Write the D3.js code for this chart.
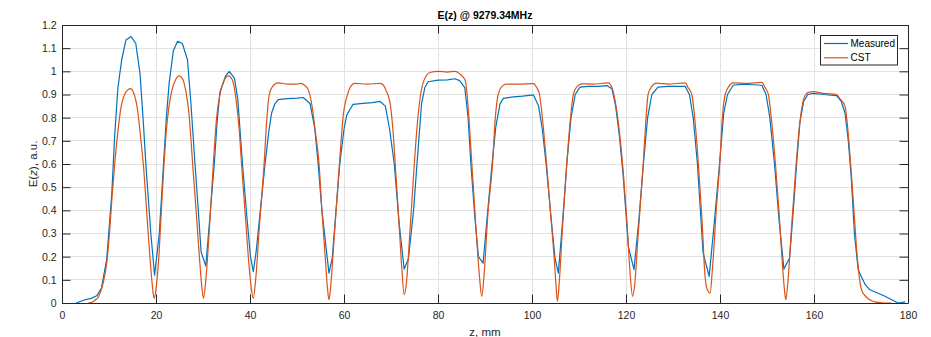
<!DOCTYPE html>
<html><head><meta charset="utf-8">
<script src="https://cdn.jsdelivr.net/npm/d3@7"></script>
<style>
html,body{margin:0;padding:0;background:#fff;}
svg{display:block;font-family:"Liberation Sans",Arial,Helvetica,sans-serif;}
</style></head>
<body><svg id="chart" width="931" height="337"></svg>
<script>
const titleText = "E(z) @ 9279.34MHz";
const xLabel = "z, mm";
const yLabelParts = ["E(", "z", "), a.u."];
const seriesNames = ["Measured", "CST"];
const xTicks = [0,20,40,60,80,100,120,140,160,180];
const yTicks = [0,0.1,0.2,0.3,0.4,0.5,0.6,0.7,0.8,0.9,1,1.1,1.2];

const measuredZ = [3.0,4.9,6.2,7.4,8.4,9.5,10.6,11.2,11.9,12.7,13.6,14.7,15.7,16.6,17.3,17.9,18.9,19.7,20.7,21.6,22.2,22.8,23.7,24.6,25.6,26.7,27.4,28.3,29.0,29.6,30.6,31.5,32.4,33.0,33.6,34.8,35.6,36.7,37.4,38.4,39.3,40.1,40.7,41.3,42.3,43.2,44.0,44.6,45.3,46.0,48.0,50.0,51.3,52.3,52.8,53.8,54.5,55.3,56.8,57.5,58.3,59.1,60.0,60.6,61.9,64,66,67.7,68.8,69.7,70.7,71.7,72.8,73.7,74.8,75.6,76.5,77.2,77.9,80,82,83.6,84.6,85.7,86.4,87.0,87.8,88.6,89.6,90.5,91.5,92.3,93.2,93.9,96.0,98,100.3,101.4,102.2,103.0,104.0,104.9,105.6,106.5,107.4,108.3,109.2,110.2,112,114,116,117.0,117.8,118.6,119.4,120.5,121.7,122.7,123.7,124.6,125.5,126.8,129,131,132.6,133.5,134.3,135.2,136.4,137.7,138.8,139.9,140.8,141.6,142.8,145,147,148.9,149.8,150.6,151.6,152.6,153.6,154.8,155.6,156.3,157.0,157.8,158.7,159.9,162,164.8,165.8,166.6,167.3,167.9,168.6,169.4,170.9,171.9,175,177.9,179.4];
const measuredE = [0.0,0.014,0.020,0.031,0.065,0.187,0.474,0.72,0.93,1.05,1.135,1.15,1.12,0.99,0.78,0.58,0.30,0.12,0.30,0.60,0.80,0.95,1.09,1.13,1.12,1.05,0.87,0.60,0.40,0.22,0.16,0.38,0.60,0.78,0.91,0.98,1.00,0.97,0.88,0.60,0.38,0.20,0.135,0.22,0.42,0.60,0.74,0.82,0.86,0.878,0.882,0.884,0.887,0.87,0.86,0.75,0.60,0.40,0.129,0.194,0.40,0.60,0.75,0.812,0.857,0.862,0.865,0.870,0.85,0.75,0.60,0.35,0.147,0.19,0.40,0.62,0.86,0.93,0.955,0.962,0.963,0.968,0.96,0.93,0.80,0.60,0.38,0.20,0.172,0.38,0.60,0.76,0.86,0.883,0.89,0.893,0.898,0.85,0.75,0.60,0.38,0.194,0.129,0.35,0.60,0.80,0.90,0.932,0.935,0.935,0.938,0.925,0.85,0.72,0.55,0.244,0.144,0.35,0.60,0.80,0.90,0.932,0.935,0.935,0.935,0.90,0.80,0.60,0.216,0.115,0.35,0.60,0.82,0.90,0.94,0.945,0.942,0.94,0.90,0.80,0.60,0.35,0.147,0.194,0.40,0.60,0.78,0.87,0.90,0.905,0.90,0.895,0.87,0.82,0.70,0.55,0.30,0.144,0.079,0.057,0.03,0.0,0.005];

const cstZ = [5.6,6.5,7.1,7.7,8.1,8.8,9.5,10.1,10.6,11.3,12.0,12.6,13.3,14.0,14.6,15.2,16.1,16.8,17.3,18.0,18.7,19.2,19.6,20.0,20.6,21.2,21.7,22.1,22.7,23.4,24.2,24.9,25.6,26.3,27.0,27.8,28.6,29.3,29.8,30.1,30.6,31.3,32.2,32.9,33.6,34.5,35.4,36.2,37.2,37.7,38.2,39.0,39.8,40.3,40.7,41.2,42.0,43.0,43.6,44.1,44.8,46.0,48,50,50.8,51.6,52.4,53.2,53.9,54.7,55.3,56.0,56.5,56.8,57.2,57.8,58.5,59.2,59.9,60.6,61.3,62.3,65,67.7,68.4,68.9,69.9,70.4,70.9,71.6,72.3,72.8,73.3,74.0,74.8,75.5,76.3,77.0,78.3,80,82,83.6,84.6,85.8,86.5,87.2,88.0,88.8,89.3,89.8,90.6,91.6,92.2,92.8,93.6,94.5,97,100.3,101.0,101.6,102.3,103.1,103.9,104.7,105.1,105.4,105.8,106.5,107.4,108.2,108.8,109.6,110.6,113,116.2,117.0,117.8,118.6,119.4,120.2,120.9,121.4,121.8,122.6,123.6,124.2,124.7,125.5,126.5,129,132.6,133.2,134.0,134.7,135.4,136.2,136.8,137.3,137.9,138.4,139.2,140.0,140.5,141.1,141.9,142.8,146,148.9,149.6,150.3,151.0,151.8,152.6,153.3,153.7,154.0,154.4,155.2,156.2,157.0,157.8,158.7,159.9,162,164.8,165.6,166.6,167.2,167.8,168.5,169.2,170.1,171.0,171.9,173,175,176.5];
const cstE = [0.0,0.004,0.014,0.025,0.043,0.09,0.17,0.30,0.445,0.62,0.76,0.85,0.90,0.92,0.925,0.91,0.83,0.70,0.60,0.40,0.20,0.08,0.02,0.06,0.20,0.42,0.60,0.72,0.84,0.92,0.965,0.98,0.97,0.92,0.82,0.60,0.38,0.18,0.06,0.02,0.10,0.30,0.60,0.80,0.90,0.96,0.98,0.965,0.85,0.75,0.60,0.38,0.16,0.06,0.02,0.10,0.33,0.60,0.80,0.90,0.935,0.95,0.945,0.945,0.948,0.94,0.92,0.85,0.74,0.60,0.40,0.20,0.06,0.014,0.08,0.25,0.45,0.65,0.82,0.89,0.93,0.948,0.945,0.948,0.94,0.92,0.85,0.75,0.60,0.38,0.15,0.036,0.09,0.30,0.55,0.75,0.90,0.96,0.995,1.0,0.997,1.0,0.99,0.96,0.82,0.60,0.35,0.12,0.028,0.12,0.38,0.60,0.80,0.90,0.935,0.945,0.945,0.947,0.93,0.90,0.78,0.60,0.40,0.20,0.08,0.007,0.09,0.33,0.60,0.80,0.90,0.935,0.946,0.945,0.95,0.93,0.86,0.74,0.57,0.35,0.12,0.029,0.07,0.30,0.58,0.78,0.90,0.935,0.949,0.945,0.95,0.93,0.90,0.78,0.60,0.35,0.12,0.057,0.043,0.15,0.40,0.62,0.80,0.90,0.935,0.95,0.948,0.952,0.93,0.90,0.78,0.60,0.38,0.16,0.06,0.014,0.08,0.32,0.60,0.78,0.88,0.908,0.912,0.905,0.90,0.88,0.85,0.75,0.60,0.40,0.20,0.057,0.028,0.014,0.005,0.0,0.0];

const colors = ["#0072BD", "#D95319"];
const axisColor = "#262626";

const svg = d3.select("#chart");
const L = 62, R = 908, T = 25, B = 303;
const x = d3.scaleLinear().domain([0,180]).range([L,R]);
const y = d3.scaleLinear().domain([0,1.2]).range([B,T]);

svg.append("rect").attr("x",0).attr("y",0).attr("width",931).attr("height",337).attr("fill","#fff");

// grid
const grid = svg.append("g").attr("stroke","#e2e2e2").attr("stroke-width",1).attr("shape-rendering","crispEdges");
xTicks.forEach(t=>{ if(t>0 && t<180) grid.append("line").attr("x1",x(t)).attr("x2",x(t)).attr("y1",T).attr("y2",B); });
yTicks.forEach(t=>{ if(t>0 && t<1.2) grid.append("line").attr("x1",L).attr("x2",R).attr("y1",y(t)).attr("y2",y(t)); });

// lines
svg.append("clipPath").attr("id","clip").append("rect").attr("x",L).attr("y",T).attr("width",R-L).attr("height",B-T);
const mData = measuredZ.map((z,i)=>[z,measuredE[i]]);
const cData = cstZ.map((z,i)=>[z,cstE[i]]);
const lineLin = d3.line().x(d=>x(d[0])).y(d=>y(d[1]));
const lineSmooth = d3.line().x(d=>x(d[0])).y(d=>y(d[1])).curve(d3.curveMonotoneX);
const plot = svg.append("g").attr("clip-path","url(#clip)");
plot.append("path").datum(mData).attr("d",lineLin).attr("fill","none").attr("stroke",colors[0]).attr("stroke-width",1.2).attr("stroke-linejoin","round");
plot.append("path").datum(cData).attr("d",lineSmooth).attr("fill","none").attr("stroke",colors[1]).attr("stroke-width",1.2).attr("stroke-linejoin","round");

// axes
const tickLen = 8.5;
const xAxisB = d3.axisBottom(x).tickValues(xTicks).tickSizeInner(-tickLen).tickSizeOuter(0).tickPadding(8.5).tickFormat(d3.format("d"));
const xAxisT = d3.axisTop(x).tickValues(xTicks).tickSizeInner(-tickLen).tickSizeOuter(0).tickFormat("");
const yAxisL = d3.axisLeft(y).tickValues(yTicks).tickSizeInner(-tickLen).tickSizeOuter(0).tickPadding(5.5).tickFormat(d=>d3.format("~g")(+d.toFixed(1)));
const yAxisR = d3.axisRight(y).tickValues(yTicks).tickSizeInner(-tickLen).tickSizeOuter(0).tickFormat("");
function style(g){
  g.select(".domain").attr("stroke",axisColor).attr("stroke-width",1);
  g.selectAll(".tick line").attr("stroke",axisColor).attr("stroke-width",1);
  g.selectAll(".tick text").attr("fill",axisColor).attr("font-size",10.5).attr("font-family","'Liberation Sans',Arial,sans-serif");
}
svg.append("g").attr("transform",`translate(0,${B})`).call(xAxisB).call(style);
svg.append("g").attr("transform",`translate(0,${T})`).call(xAxisT).call(style);
svg.append("g").attr("transform",`translate(${L},0)`).call(yAxisL).call(style);
svg.append("g").attr("transform",`translate(${R},0)`).call(yAxisR).call(style);

// title & labels
svg.append("text").attr("x",(L+R)/2).attr("y",19).attr("text-anchor","middle").attr("font-weight","bold").attr("font-size",10.5).attr("fill","#000").text(titleText);
svg.append("text").attr("x",(L+R)/2).attr("y",336).attr("text-anchor","middle").attr("font-size",11.5).attr("fill",axisColor).text(xLabel);
const yl = svg.append("text").attr("transform",`translate(36.5,${(T+B)/2}) rotate(-90)`).attr("text-anchor","middle").attr("font-size",11.5).attr("fill",axisColor);
yLabelParts.forEach((p,i)=>{ const ts = yl.append("tspan").text(p); if(i===1) ts.attr("font-style","italic"); });

// legend
const lg = svg.append("g");
lg.append("rect").attr("x",820.5).attr("y",35.5).attr("width",77).attr("height",29.5).attr("fill","#fff").attr("stroke",axisColor).attr("stroke-width",1);
seriesNames.forEach((n,i)=>{
  const yy = 43.5 + i*14.3;
  lg.append("line").attr("x1",824).attr("x2",848).attr("y1",yy).attr("y2",yy).attr("stroke",colors[i]).attr("stroke-width",1.2);
  lg.append("text").attr("x",850.5).attr("y",yy+3.6).attr("font-size",10).attr("fill","#000").text(n);
});
</script></body></html>
